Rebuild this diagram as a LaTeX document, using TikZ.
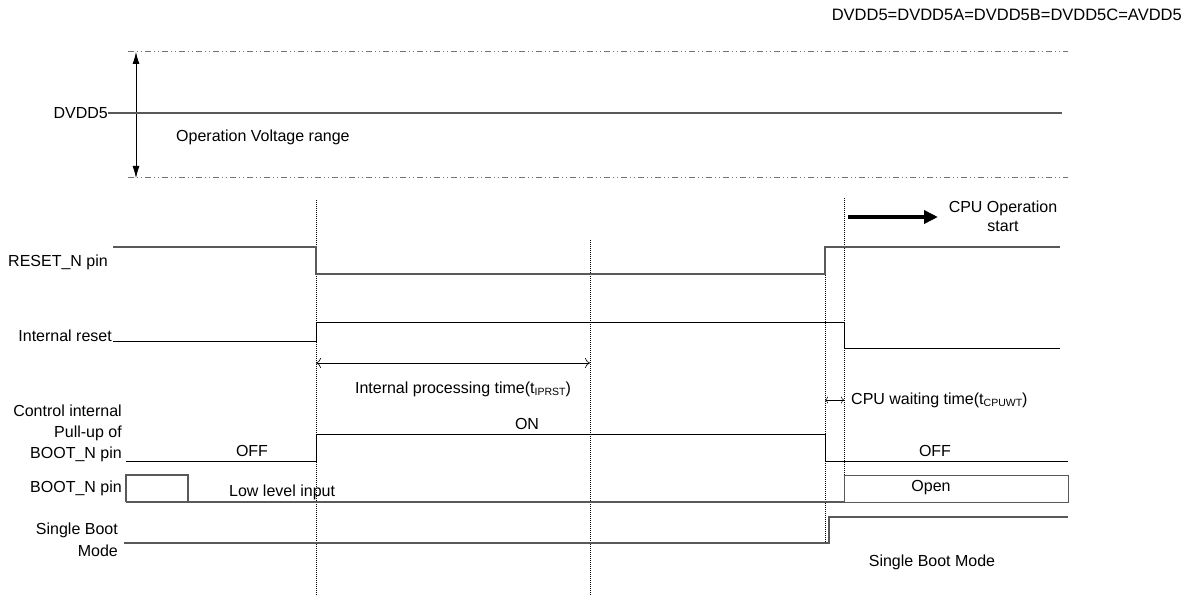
\documentclass[tikz,border=0pt]{standalone}
\usepackage{fontspec}
\setmainfont{Liberation Sans}
\usetikzlibrary{arrows.meta,positioning}
\newcommand{\lowidx}[1]{\raisebox{-0.25ex}{\fontsize{10.5}{11}\selectfont #1}}
\begin{document}
\begin{tikzpicture}[x=1pt, y=-1pt, font=\fontsize{16}{19}\selectfont,
    sig/.style={line width=0.9pt},
    gsig/.style={line width=1.3pt, black!65},
    rangeline/.style={line width=1pt, black!55, dash pattern=on 6pt off 3pt on 1pt off 3pt on 1pt off 3pt},
    marker/.style={line width=0.6pt, dash pattern=on 1pt off 1pt},
    lbl/.style={anchor=east, align=right, inner sep=0pt}]
    \useasboundingbox (0,0) rectangle (1192,596);

        \node[anchor=east, inner sep=0pt, font=\fontsize{16.5}{20}\selectfont] (title) at (1182,15) {DVDD5=DVDD5A=DVDD5B=DVDD5C=AVDD5};

        \coordinate (vmax) at (128,52);
        \coordinate (vmaxend) at (1068,52);
        \coordinate (vmin) at (128,178);
        \coordinate (vminend) at (1068,178);
        \coordinate (vtip) at (136,52);
        \coordinate (vbot) at (136,178);
        \draw[rangeline] (vmax) -- (vmaxend);
        \draw[rangeline] (vmin) -- (vminend);
        \draw[line width=0.8pt, {Latex[length=12pt,width=7pt]}-{Latex[length=12pt,width=7pt]}] (vtip) -- (vbot);

        \node[lbl] (dvdd) at (108,113) {DVDD5};
        \coordinate (dvddend) at (1062,113);
        \draw[gsig] (dvdd.east) -- (dvddend);
        \node[anchor=west, inner sep=0pt] (oprange) at (176,137) {Operation Voltage range};

        \draw[marker] (316,200) -- (316,596);
        \draw[marker] (590,240) -- (590,596);
        \draw[marker] (825,247) -- (825,545);
        \draw[marker] (844,198) -- (844,475);

        \node[lbl] (rst) at (108,262) {RESET\_N pin};
        \draw[gsig] (113,247) -- (316,247) -- (316,274) -- (825,274) -- (825,247) -- (1060,247);

        \node[lbl] (irst) at (112,336) {Internal reset};
        \draw[sig] (113,341) -- (316,341) -- (316,322) -- (844,322) -- (844,348) -- (1060,348);

        \coordinate (tstart) at (316,363);
        \coordinate (tend) at (590,363);
        \draw[line width=0.6pt, {To[length=5pt,width=10pt]}-{To[length=5pt,width=10pt]}] (tstart) -- (tend);
        \node (tiprst) at (463,389) {Internal processing time(t\lowidx{IPRST})};

        \coordinate (wstart) at (825,400);
        \coordinate (wend) at (844,400);
        \draw[line width=0.5pt, {To[length=3pt,width=7pt]}-{To[length=3pt,width=7pt]}] (wstart) -- (wend);
        \node[anchor=west, inner sep=0pt] (tcpuwt) at (851,400) {CPU waiting time(t\lowidx{CPUWT})};

        \coordinate (cpustart) at (848,217);
        \coordinate (cpuend) at (938,217);
        \draw[line width=3.5pt, -{Triangle[length=14pt,width=13pt]}] (cpustart) -- (cpuend);
        \node[align=center, inner sep=0pt, font=\fontsize{16}{19}\selectfont] (cpuop) at (1003,216) {CPU Operation\\start};

        \node[lbl, font=\fontsize{16}{21}\selectfont] (pullup) at (122,433) {Control internal\\Pull-up of\\BOOT\_N pin};
        \draw[sig] (126,461) -- (316,461) -- (316,434) -- (825,434) -- (825,461) -- (1068,461);
        \node (offa) at (252,451) {OFF};
        \node (on) at (527,424) {ON};
        \node (offb) at (935,451) {OFF};

        \node[lbl] (boot) at (122,488) {BOOT\_N pin};
        \draw[gsig] (126,502) -- (126,475) -- (188,475) -- (188,502);
        \draw[gsig] (126,502) -- (844,502);
        \node[anchor=west, inner sep=0pt] (lowin) at (229,492) {Low level input};
        \node[draw, gsig, minimum width=224pt, minimum height=27pt, anchor=north west, inner sep=0pt] (open) at (844,475) {};
        \node (opentxt) at (931,488) {Open};

        \node[lbl, font=\fontsize{16}{22}\selectfont] (sbm) at (118,540) {Single Boot\\Mode};
        \draw[gsig] (124,543) -- (829,543) -- (829,517) -- (1068,517);
        \node (sbmr) at (932,562) {Single Boot Mode};
\end{tikzpicture}
\end{document}
